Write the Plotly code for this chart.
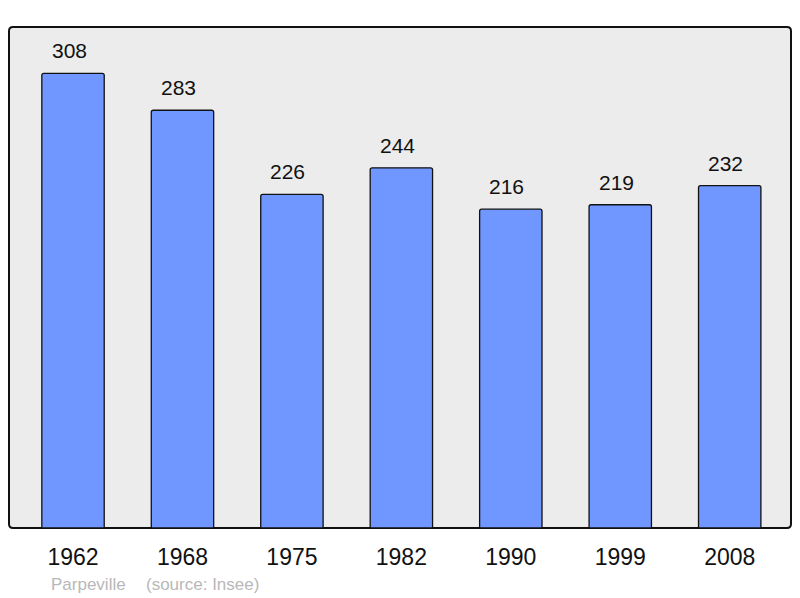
import plotly.graph_objects as go

years = ["1962", "1968", "1975", "1982", "1990", "1999", "2008"]
population = [308, 283, 226, 244, 216, 219, 232]
source_place = "Parpeville"
source_text = "(source: Insee)"

# the page body has an 8px default margin; compensate so the chart sits at the reference position
OFF = 8
W, H = 800 - OFF, 598 - OFF
ML, MR, MT, MB = 9 - OFF, 9, 27 - OFF, 70
pw, ph = W - ML - MR, H - MT - MB

FONT = "Liberation Sans, Arial, sans-serif"

fig = go.Figure()
fig.add_trace(go.Bar(
    x=years, y=population,
    width=0.57,
    marker=dict(color="#7096ff", line=dict(color="#111111", width=1.3), cornerradius=2),
    hoverinfo="x+y",
))

for i, v in enumerate(population):
    fig.add_annotation(x=i, y=v, text=str(v), showarrow=False, xref="x", yref="y",
                       yanchor="bottom", yshift=9, xshift=-4,
                       font=dict(family=FONT, size=21, color="#111111"))

# rounded frame for plot area
r = 4
rx, ry = r / pw, r / ph
path = (f"M {rx},0 L {1-rx},0 Q 1,0 1,{ry} L 1,{1-ry} Q 1,1 {1-rx},1 "
        f"L {rx},1 Q 0,1 0,{1-ry} L 0,{ry} Q 0,0 {rx},0 Z")
fig.add_shape(type="path", path=path, xref="paper", yref="paper",
              fillcolor="#ececec", line=dict(color="#111111", width=2), layer="below")

fy = -(584 - 528) / ph
fig.add_annotation(x=(49 - 9) / pw, y=fy, xref="paper", yref="paper",
                   text=source_place, showarrow=False, xanchor="left", yanchor="middle",
                   font=dict(family=FONT, size=17, color="#b8b8b8"))
fig.add_annotation(x=(144 - 9) / pw, y=fy, xref="paper", yref="paper",
                   text=source_text, showarrow=False, xanchor="left", yanchor="middle",
                   font=dict(family=FONT, size=17, color="#b8b8b8"))

fig.update_layout(
    width=W, height=H,
    margin=dict(l=ML, r=MR, t=MT, b=MB),
    paper_bgcolor="white", plot_bgcolor="rgba(0,0,0,0)",
    showlegend=False,
    xaxis=dict(type="category", range=[-0.585, 6.56], showgrid=False, zeroline=False,
               showline=False, ticks="", ticklabelstandoff=13,
               tickfont=dict(family=FONT, size=23, color="#111111")),
    yaxis=dict(range=[0, 339.4], showgrid=False, zeroline=False, showline=False,
               showticklabels=False, ticks=""),
    bargap=0.43,
)

fig.write_html("out.html")
